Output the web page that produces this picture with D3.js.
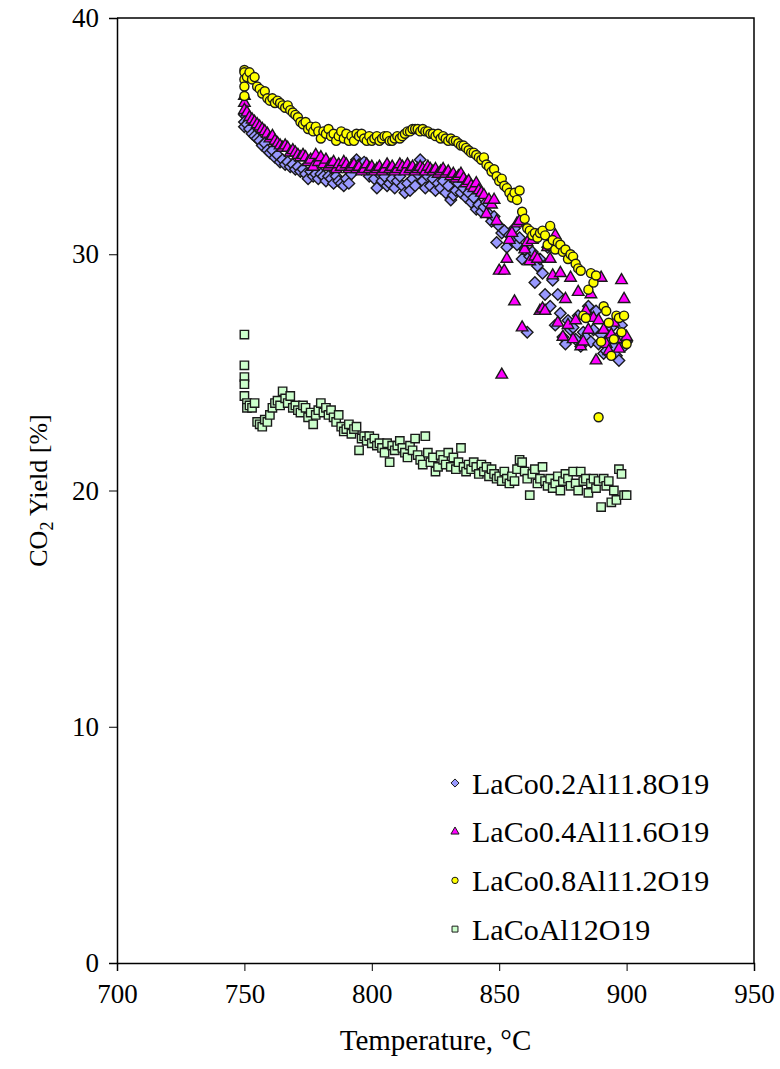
<!DOCTYPE html>
<html>
<head>
<meta charset="utf-8">
<script src="https://cdn.jsdelivr.net/npm/d3@7"></script>
<style>
  body { margin: 0; background: #fff; }
  svg { display: block; font-family: "Liberation Serif", "Times New Roman", serif; }
</style>
</head>
<body>
<div id="grafico"></div>
<script>
// datos: [temperatura °C, rendimiento CO2 %]
const serieCo02 = [[750,35.9],[750,35.6],[750,35.4],[751,35.5],[752,35.3],[753,35.1],[754,35.0],[755,34.9],[756,34.8],[757,34.6],[758,34.7],[759,34.4],[760,34.3],[761,34.4],[762,34.1],[763,34.2],[764,33.9],[765,34.0],[766,33.8],[767,33.9],[768,33.7],[769,33.8],[770,33.6],[771,33.7],[772,33.5],[773,33.6],[774,33.4],[775,33.2],[776,33.5],[777,33.3],[778,33.4],[779,33.2],[780,33.4],[781,33.3],[782,33.1],[783,33.3],[784,33.2],[785,33.0],[786,33.3],[787,33.1],[788,33.0],[789,32.9],[790,33.2],[791,33.0],[792,33.4],[793,33.7],[794,34.0],[795,33.8],[796,33.6],[797,33.9],[798,33.5],[799,33.3],[800,33.6],[801,33.2],[802,32.8],[803,33.4],[804,33.1],[805,33.3],[806,32.9],[807,33.0],[808,33.2],[809,32.8],[810,33.1],[811,33.3],[812,32.9],[813,32.6],[814,33.0],[815,32.7],[816,33.2],[817,32.9],[818,33.4],[819,34.0],[820,33.1],[821,32.8],[822,33.3],[823,32.9],[824,33.2],[825,32.7],[826,33.0],[827,32.8],[828,33.1],[829,32.6],[830,32.9],[831,32.3],[832,32.5],[833,32.7],[834,33.0],[835,32.6],[836,32.8],[837,32.4],[838,32.6],[839,32.2],[840,32.4],[841,31.9],[842,32.1],[843,31.8],[844,32.0],[845,32.2],[846,31.7],[847,31.4],[848,31.6],[849,30.5],[850,31.2],[851,30.9],[852,31.0],[853,30.3],[854,30.8],[855,30.6],[856,31.1],[857,30.4],[858,30.7],[859,29.8],[860,30.2],[861,26.7],[862,29.9],[863,30.1],[864,28.8],[865,29.5],[866,29.8],[867,29.2],[868,28.3],[869,30.3],[870,27.8],[871,28.9],[872,27.0],[873,28.3],[874,27.5],[875,26.5],[876,26.2],[877,27.2],[878,26.8],[879,26.9],[880,26.4],[881,27.4],[882,26.1],[883,26.7],[884,26.5],[885,27.8],[886,26.3],[887,26.8],[888,27.6],[889,26.2],[890,26.6],[891,25.8],[892,25.9],[893,26.4],[894,26.9],[895,26.1],[896,25.7],[897,25.5],[898,27.0],[899,26.1],[900,26.3]];

const serieCo04 = [[750,36.7],[750,36.4],[750,36.1],[751,36.0],[752,35.8],[753,35.7],[754,35.6],[755,35.5],[756,35.4],[757,35.3],[758,35.2],[759,35.1],[760,34.9],[761,35.0],[762,34.8],[763,34.7],[764,34.6],[765,34.5],[766,34.6],[767,34.5],[768,34.3],[769,34.4],[770,34.3],[771,34.2],[772,34.1],[773,34.2],[774,34.1],[775,33.9],[776,34.0],[777,33.7],[778,34.2],[779,33.9],[780,34.1],[781,33.8],[782,34.0],[783,33.7],[784,33.8],[785,33.9],[786,33.6],[787,33.8],[788,33.7],[789,33.9],[790,33.8],[791,33.6],[792,33.7],[793,33.8],[794,33.6],[795,33.7],[796,33.5],[797,33.6],[798,33.8],[799,33.6],[800,33.7],[801,33.5],[802,33.6],[803,33.7],[804,33.5],[805,33.6],[806,33.8],[807,33.6],[808,33.7],[809,33.5],[810,33.6],[811,33.8],[812,33.7],[813,33.5],[814,33.8],[815,33.6],[816,33.7],[817,33.5],[818,33.6],[819,33.7],[820,33.6],[821,33.5],[822,33.7],[823,33.6],[824,33.5],[825,33.6],[826,33.4],[827,33.5],[828,33.6],[829,33.4],[830,33.5],[831,33.3],[832,33.4],[833,33.2],[834,33.3],[835,33.4],[836,33.2],[837,33.0],[838,33.1],[839,32.9],[840,32.8],[841,33.0],[842,32.7],[843,32.6],[844,32.5],[845,31.7],[846,32.3],[847,32.1],[848,32.3],[849,31.4],[850,29.3],[851,24.9],[852,29.3],[853,29.8],[854,30.6],[855,30.9],[856,28.0],[857,31.3],[858,31.4],[859,26.9],[860,30.2],[861,30.5],[862,29.7],[863,30.6],[864,29.9],[865,29.8],[866,27.6],[867,27.7],[868,27.6],[869,30.3],[870,29.8],[871,29.1],[872,30.8],[873,27.1],[874,29.2],[875,26.5],[876,28.1],[877,27.0],[878,29.0],[879,26.4],[880,27.2],[881,28.4],[882,26.1],[883,26.3],[884,27.6],[885,26.8],[886,28.3],[887,27.3],[888,25.5],[889,27.2],[890,29.0],[891,26.8],[892,26.2],[893,25.9],[894,26.6],[895,27.1],[896,26.4],[897,26.0],[898,28.9],[899,28.1],[900,26.5]];

const serieCo08 = [[750,37.8],[750,37.7],[750,37.4],[750,37.1],[750,36.7],[751,37.5],[752,37.7],[753,37.4],[754,37.5],[755,37.1],[756,37.0],[757,36.8],[758,36.9],[759,36.6],[760,36.5],[761,36.6],[762,36.4],[763,36.5],[764,36.4],[765,36.3],[766,36.2],[767,36.3],[768,36.1],[769,36.0],[770,35.9],[771,35.8],[772,35.6],[773,35.5],[774,35.6],[775,35.3],[776,35.4],[777,35.2],[778,35.4],[779,35.2],[780,34.9],[781,35.2],[782,35.1],[783,35.3],[784,35.0],[785,35.1],[786,34.8],[787,35.0],[788,35.2],[789,34.9],[790,35.1],[791,34.8],[792,35.0],[793,34.8],[794,35.1],[795,35.0],[796,35.1],[797,34.9],[798,34.8],[799,35.0],[800,34.8],[801,34.9],[802,35.0],[803,34.8],[804,34.9],[805,35.0],[806,35.0],[807,34.8],[808,34.8],[809,34.9],[810,35.0],[811,34.9],[812,35.0],[813,35.1],[814,35.2],[815,35.2],[816,35.3],[817,35.3],[818,35.3],[819,35.2],[820,35.3],[821,35.2],[822,35.2],[823,35.1],[824,35.1],[825,35.0],[826,35.1],[827,34.9],[828,35.0],[829,34.9],[830,34.8],[831,34.9],[832,34.8],[833,34.8],[834,34.7],[835,34.6],[836,34.6],[837,34.5],[838,34.4],[839,34.3],[840,34.3],[841,34.2],[842,34.1],[843,34.0],[844,34.1],[845,33.8],[846,33.7],[847,33.5],[848,33.6],[849,33.3],[850,33.1],[851,33.2],[852,32.9],[853,32.8],[854,32.6],[855,32.4],[856,32.6],[857,32.3],[858,32.7],[859,31.8],[860,31.5],[861,31.1],[862,31.0],[863,30.8],[864,30.9],[865,30.7],[866,30.9],[867,31.0],[868,30.8],[869,30.4],[870,31.2],[871,30.6],[872,30.2],[873,30.5],[874,30.4],[875,30.1],[876,30.2],[877,29.8],[878,30.0],[879,29.9],[880,29.6],[881,29.4],[882,29.3],[883,27.4],[884,27.3],[885,28.5],[886,29.2],[887,28.8],[888,29.1],[889,23.1],[890,26.3],[891,27.8],[892,27.6],[893,27.1],[894,25.7],[895,26.4],[896,27.4],[897,27.3],[898,26.7],[899,27.4],[900,26.2]];

const serieCo10 = [[750,26.6],[750,25.3],[750,24.8],[750,24.5],[750,24.0],[751,23.7],[751,23.5],[752,23.6],[753,23.5],[754,23.7],[755,22.9],[756,22.8],[757,22.7],[758,23.0],[759,22.9],[760,23.2],[761,23.5],[762,23.7],[763,23.8],[764,23.6],[765,24.2],[766,23.9],[767,23.7],[768,24.0],[769,23.5],[770,23.6],[771,23.4],[772,23.3],[773,23.6],[774,23.5],[775,23.1],[776,23.3],[777,22.8],[778,23.2],[779,23.4],[780,23.7],[781,23.3],[782,23.5],[783,23.2],[784,23.4],[785,23.1],[786,22.9],[787,23.2],[788,22.7],[789,22.5],[790,22.6],[791,22.8],[792,22.4],[793,22.6],[794,22.7],[795,21.7],[796,22.2],[797,22.3],[798,22.1],[799,22.3],[800,22.0],[801,22.2],[802,21.9],[803,22.0],[804,21.8],[805,21.6],[806,22.0],[807,21.2],[808,21.9],[809,21.7],[810,21.9],[811,22.1],[812,21.8],[813,21.6],[814,21.4],[815,21.9],[816,21.7],[817,22.2],[818,21.5],[819,21.3],[820,21.1],[821,22.3],[822,21.6],[823,21.2],[824,21.4],[825,20.8],[826,21.0],[827,21.5],[828,21.3],[829,21.1],[830,21.6],[831,21.0],[832,21.4],[833,20.9],[834,21.2],[835,21.8],[836,21.0],[837,20.8],[838,21.1],[839,20.9],[840,21.2],[841,21.0],[842,20.7],[843,21.1],[844,20.8],[845,21.0],[846,20.6],[847,20.9],[848,20.7],[849,20.5],[850,20.6],[851,20.4],[852,20.8],[853,20.5],[854,20.3],[855,20.6],[856,20.4],[857,20.9],[858,21.3],[859,21.2],[860,20.8],[861,20.5],[862,19.8],[863,20.7],[864,20.9],[865,20.3],[866,20.5],[867,21.0],[868,20.4],[869,20.2],[870,20.5],[871,20.1],[872,20.3],[873,20.6],[874,20.0],[875,20.4],[876,20.7],[877,20.5],[878,20.2],[879,20.8],[880,20.3],[881,20.0],[882,20.8],[883,20.4],[884,20.5],[885,19.9],[886,20.3],[887,20.5],[888,20.1],[889,20.4],[890,19.3],[891,20.5],[892,20.2],[893,20.4],[894,19.5],[895,20.0],[896,19.6],[897,20.9],[898,20.7],[899,19.8],[900,19.8]];

const nombres = ["LaCo0.2Al11.8O19", "LaCo0.4Al11.6O19", "LaCo0.8Al11.2O19", "LaCoAl12O19"];
const ticksX = [700, 750, 800, 850, 900, 950];
const ticksY = [0, 10, 20, 30, 40];

const ancho = 780, alto = 1069;
const margen = { arriba: 18, derecha: 26, abajo: 106, izquierda: 117 };

const svg = d3.select("#grafico").append("svg")
    .attr("width", ancho)
    .attr("height", alto);

const x = d3.scaleLinear().domain([700, 950]).range([margen.izquierda, ancho - margen.derecha]);
const y = d3.scaleLinear().domain([0, 40]).range([alto - margen.abajo, margen.arriba]);

// marcadores estilo excel
const series = [
    { datos: serieCo02, simbolo: d3.symbolDiamond2, tam: 84, color: "#9999FF" },
    { datos: serieCo04, simbolo: d3.symbolTriangle, tam: 58, color: "#FF00FF" },
    { datos: serieCo08, simbolo: d3.symbolCircle, tam: 64, color: "#FFFF00" },
    { datos: serieCo10, simbolo: d3.symbolSquare, tam: 70, color: "#CCFFCC" }
];

// ejes
const ejeX = svg.append("g")
    .attr("transform", `translate(0,${y(0)})`)
    .call(d3.axisBottom(x).tickValues(ticksX).tickSize(8).tickPadding(13));
const ejeY = svg.append("g")
    .attr("transform", `translate(${x(700)},0)`)
    .call(d3.axisLeft(y).tickValues(ticksY).tickSize(8).tickPadding(10));

[ejeX, ejeY].forEach(eje => {
    eje.select(".domain").attr("stroke", "#000").attr("stroke-width", 1.5);
    eje.selectAll(".tick line").attr("stroke", "#000");
    eje.selectAll("text")
        .attr("font-family", "Liberation Serif, serif")
        .attr("font-size", 27)
        .attr("fill", "#000");
});

// marco arriba y derecha
svg.append("path")
    .attr("d", `M${x(700)},${y(40)}H${x(950)}V${y(0)}`)
    .attr("fill", "none")
    .attr("stroke", "#000")
    .attr("stroke-width", 1.5);

series.forEach(s => {
    const forma = d3.symbol().type(s.simbolo).size(s.tam);
    svg.append("g").selectAll("path")
        .data(s.datos)
        .join("path")
        .attr("transform", d => `translate(${x(d[0])},${y(d[1])})`)
        .attr("d", forma)
        .attr("fill", s.color)
        .attr("stroke", "#1a1a1a")
        .attr("stroke-width", 1.4);
});

// titulos de ejes
svg.append("text")
    .attr("x", (x(700) + x(950)) / 2)
    .attr("y", 1050)
    .attr("text-anchor", "middle")
    .attr("font-size", 29)
    .text("Temperature, °C");

const tituloY = svg.append("text")
    .attr("transform", `translate(47,${(y(0) + y(40)) / 2}) rotate(-90)`)
    .attr("text-anchor", "middle")
    .attr("font-size", 26);
tituloY.append("tspan").text("CO");
tituloY.append("tspan").attr("font-size", 18).attr("dy", 6).text("2");
tituloY.append("tspan").attr("dy", -6).text(" Yield [%]");

// leyenda
const leyenda = svg.append("g").attr("transform", "translate(455,783)");
series.forEach((s, i) => {
    const fila = leyenda.append("g").attr("transform", `translate(0,${i * 48.7})`);
    fila.append("path")
        .attr("d", d3.symbol().type(s.simbolo).size(s.tam * 0.5))
        .attr("fill", s.color)
        .attr("stroke", "#1a1a1a")
        .attr("stroke-width", 1);
    fila.append("text")
        .attr("x", 17)
        .attr("dy", "0.35em")
        .attr("font-size", 30)
        .text(nombres[i]);
});
</script>
</body>
</html>
